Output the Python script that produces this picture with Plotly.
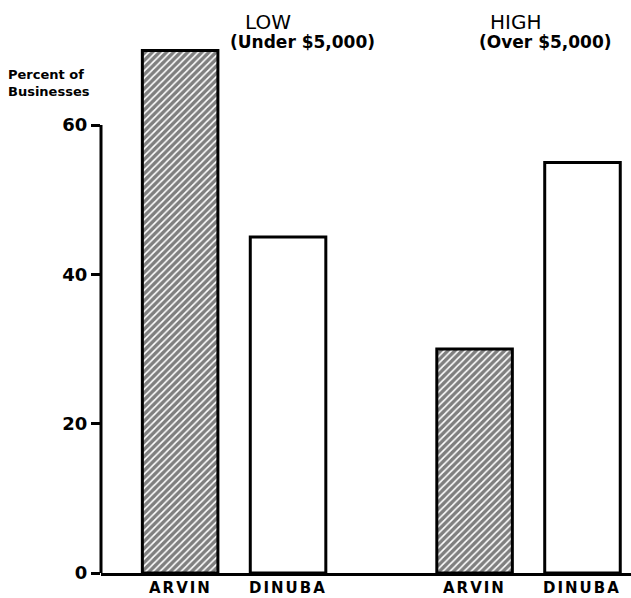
import plotly.graph_objects as go

# Share of businesses by gross income class, two towns
groups = ["LOW", "HIGH"]
group_notes = ["(Under $5,000)", "(Over $5,000)"]
towns = ["ARVIN", "DINUBA"]
arvin_pct = [70, 30]
dinuba_pct = [45, 55]
y_ticks = [0, 20, 40, 60]
y_label = "Percent of<br>Businesses"

W, H = 631, 598
M_L, M_R, M_T, M_B = 101, 0, 40, 25
BARGAP = 0.267
GROUPGAP = 0.30
X_RANGE = [-0.452, 1.348]
Y_RANGE = [0, 71.4]

FONT = "DejaVu Sans"
INK = "black"


def paper_x(px):
    return (px - M_L) / (W - M_L - M_R)


def paper_y(py):
    return (H - M_B - py) / (H - M_T - M_B)


def spaced(text, px):
    return f'<span style="letter-spacing:{px}px">{text}</span>'


fig = go.Figure()
fig.add_bar(
    x=groups, y=arvin_pct, name=towns[0],
    marker=dict(
        color="white",
        line=dict(color=INK, width=3),
        pattern=dict(shape="/", fgcolor=INK, bgcolor="white", size=5, solidity=0.68),
    ),
)
fig.add_bar(
    x=groups, y=dinuba_pct, name=towns[1],
    marker=dict(color="white", line=dict(color=INK, width=3)),
)

# town names under each bar
slot = (1 - BARGAP) / len(towns)
annotations = []
for gi, _ in enumerate(groups):
    for ti, town in enumerate(towns):
        xc = gi - (1 - BARGAP) / 2 + slot * (ti + 0.5)
        annotations.append(dict(
            x=xc, xref="x", y=0, yref="paper", yanchor="top", yshift=-4,
            text=spaced(town, 2), showarrow=False,
            font=dict(family=FONT, size=15, color=INK, weight="bold"),
        ))

# group headings
head_centers = [268, 515]
note_centers = [302, 545]
for g, note, hx, nx in zip(groups, group_notes, head_centers, note_centers):
    annotations.append(dict(
        x=paper_x(hx), xref="paper", y=paper_y(22), yref="paper",
        text=g, showarrow=False, xanchor="center", yanchor="middle",
        font=dict(family=FONT, size=20, color=INK),
    ))
    annotations.append(dict(
        x=paper_x(nx), xref="paper", y=paper_y(42), yref="paper",
        text=note, showarrow=False, xanchor="center", yanchor="middle",
        font=dict(family=FONT, size=17, color=INK, weight="bold"),
    ))

annotations.append(dict(
    x=paper_x(6), xref="paper", y=paper_y(83), yref="paper",
    text=y_label, showarrow=False, xanchor="left", yanchor="middle", align="left",
    font=dict(family=FONT, size=13, color=INK, weight="bold"),
))

fig.update_layout(
    width=W, height=H,
    margin=dict(l=M_L, r=M_R, t=M_T, b=M_B),
    paper_bgcolor="white", plot_bgcolor="white",
    barmode="group", bargap=BARGAP, bargroupgap=GROUPGAP,
    showlegend=False,
    annotations=annotations,
    shapes=[dict(
        type="line", xref="paper", yref="y", x0=0, x1=0, y0=0, y1=max(y_ticks),
        line=dict(color=INK, width=3),
    )],
    xaxis=dict(
        range=X_RANGE, showline=True, linecolor=INK, linewidth=3,
        showticklabels=False, ticks="", showgrid=False, zeroline=False,
    ),
    yaxis=dict(
        range=Y_RANGE, showline=False, showgrid=False, zeroline=False,
        tickvals=y_ticks, ticks="outside", ticklen=9, tickwidth=2.5, tickcolor=INK,
        tickfont=dict(family=FONT, size=18, color=INK, weight="bold"),
    ),
)

fig.write_html("out.html")
